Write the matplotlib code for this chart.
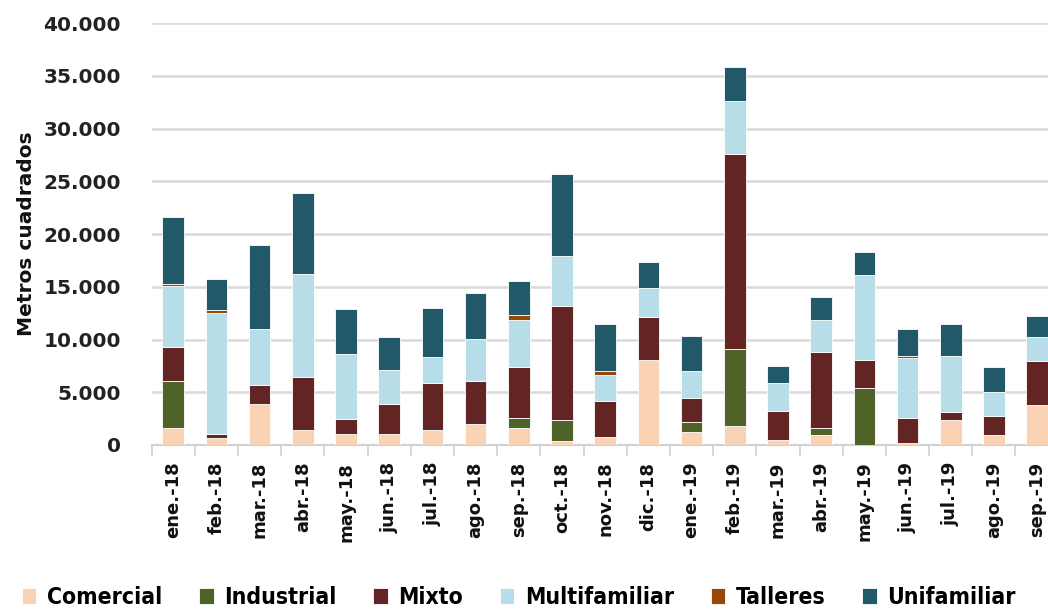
import numpy as np
import matplotlib.pyplot as plt

meses = ['ene.-18', 'feb.-18', 'mar.-18', 'abr.-18', 'may.-18', 'jun.-18', 'jul.-18',
         'ago.-18', 'sep.-18', 'oct.-18', 'nov.-18', 'dic.-18', 'ene.-19', 'feb.-19',
         'mar.-19', 'abr.-19', 'may.-19', 'jun.-19', 'jul.-19', 'ago.-19', 'sep.-19']

# metros cuadrados por destino
comercial = [1600, 660, 3900, 1420, 1000, 1000, 1420, 2000, 1600, 380, 790, 8080, 1200, 1820,
             470, 980, 0, 190, 2370, 980, 3790]
industrial = [4450, 0, 0, 0, 0, 0, 0, 0, 950, 2000, 0, 0, 990, 7240,
              0, 600, 5400, 0, 0, 0, 0]
mixto = [3250, 380, 1800, 5050, 1450, 2870, 4450, 4050, 4850, 10770, 3420, 4020, 2240, 18480,
         2770, 7270, 2650, 2400, 790, 1800, 4200]
multifamiliar = [5800, 11500, 5250, 9700, 6200, 3200, 2450, 4000, 4470, 4780, 2440, 2820, 2630, 5030,
                 2640, 3000, 8060, 5620, 5280, 2210, 2210]
talleres = [190, 230, 0, 0, 0, 0, 0, 0, 410, 0, 410, 0, 0, 0,
            0, 0, 0, 200, 0, 0, 0]
unifamiliar = [6300, 2970, 8050, 7700, 4270, 3200, 4650, 4400, 3260, 7740, 4440, 2430, 3230, 3240,
               1580, 2210, 2210, 2600, 3030, 2430, 2060]

series = [('Comercial', comercial, '#FAD3B5'),
          ('Industrial', industrial, '#4F6228'),
          ('Mixto', mixto, '#632523'),
          ('Multifamiliar', multifamiliar, '#B7DEE8'),
          ('Talleres', talleres, '#974806'),
          ('Unifamiliar', unifamiliar, '#215968')]

fig = plt.figure(figsize=(10.48, 6.16), dpi=100)
ax = fig.add_axes([0.1447, 0.2776, 0.8655, 0.685])

x = np.arange(len(meses))
base = np.zeros(len(meses))
for nombre, vals, color in series:
    vals = np.array(vals, dtype=float)
    ax.bar(x, vals, 0.5, bottom=base, color=color, label=nombre,
           edgecolor='white', linewidth=0.6, zorder=3)
    base += vals

ax.set_xlim(-0.5, len(meses) - 0.5)
ax.set_ylim(0, 40000)
ax.set_yticks(np.arange(0, 40001, 5000))
ax.set_yticklabels([f'{v:,.0f}'.replace(',', '.') for v in np.arange(0, 40001, 5000)],
                   fontsize=14.5, fontweight='bold', color='#222222')
ax.set_xticks(x)
ax.set_xticklabels(meses, rotation=90, fontsize=13, fontweight='bold', color='#111111')
ax.set_xticks(np.arange(-0.5, len(meses)), minor=True)
ax.tick_params(axis='x', which='major', length=0, pad=12)
ax.tick_params(axis='x', which='minor', length=8, width=1.2, color='#d0d0d0')
ax.tick_params(axis='y', length=0, pad=22)
ax.grid(axis='y', color='#d9d9d9', linewidth=1.8, zorder=0)
for s in ['top', 'right', 'left']:
    ax.spines[s].set_visible(False)
ax.spines['bottom'].set_color('#d0d0d0')
ax.spines['bottom'].set_linewidth(1.5)
ax.set_ylabel('Metros cuadrados', fontsize=14.5, fontweight='bold', labelpad=0, color='#111111')
ax.yaxis.set_label_coords(-0.128, 0.5)

fig.legend(loc='lower center', bbox_to_anchor=(0.495, -0.022), ncol=6, frameon=False,
           prop={'family': 'DejaVu Sans', 'stretch': 'condensed', 'size': 16.5, 'weight': 'bold'},
           handlelength=0.65, handleheight=0.65,
           handletextpad=0.45, columnspacing=1.6)

fig.savefig('out.png', dpi=100)
